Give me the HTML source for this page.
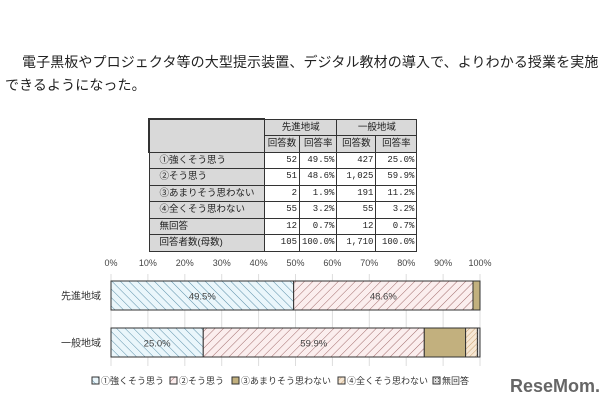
<!DOCTYPE html>
<html><head><meta charset="utf-8"><style>
body{margin:0;width:607px;height:402px;background:#fff;overflow:hidden;position:relative;font-family:"Liberation Sans","Noto Sans CJK JP",sans-serif;}
.t{position:absolute;font-size:14px;color:#222;white-space:nowrap;letter-spacing:0.1px}
table{position:absolute;left:148px;top:118px;border-collapse:collapse;font-size:9.5px;color:#222}
td{border:1px solid #333;padding:0 2px;height:15.5px;line-height:15px}
td.n{text-align:right;font-family:"Liberation Mono","Noto Sans CJK JP",monospace;font-size:9px}
td.h{background:#d9d9d9;text-align:center}
td.l{background:#d9d9d9;padding-left:10px}
</style></head><body>
<div class="t" style="left:22px;top:52px">電子黒板やプロジェクタ等の大型提示装置、デジタル教材の導入で、よりわかる授業を実施</div>
<div class="t" style="left:5px;top:75px">できるようになった。</div>
<table>
<tr><td class="h" rowspan="2" style="width:110px;border-width:2px 1px 1px 2px"></td><td class="h" colspan="2">先進地域</td><td class="h" colspan="2">一般地域</td></tr>
<tr><td class="h" style="width:30px">回答数</td><td class="h" style="width:30px">回答率</td><td class="h" style="width:34px">回答数</td><td class="h" style="width:36px">回答率</td></tr>
<tr><td class="l">①強くそう思う</td><td class="n">52</td><td class="n">49.5%</td><td class="n">427</td><td class="n">25.0%</td></tr>
<tr><td class="l">②そう思う</td><td class="n">51</td><td class="n">48.6%</td><td class="n">1,025</td><td class="n">59.9%</td></tr>
<tr><td class="l">③あまりそう思わない</td><td class="n">2</td><td class="n">1.9%</td><td class="n">191</td><td class="n">11.2%</td></tr>
<tr><td class="l">④全くそう思わない</td><td class="n">55</td><td class="n">3.2%</td><td class="n">55</td><td class="n">3.2%</td></tr>
<tr><td class="l">無回答</td><td class="n">12</td><td class="n">0.7%</td><td class="n">12</td><td class="n">0.7%</td></tr>
<tr><td class="l">回答者数(母数)</td><td class="n">105</td><td class="n">100.0%</td><td class="n">1,710</td><td class="n">100.0%</td></tr>
</table>
<svg id="chart" width="607" height="402" style="position:absolute;left:0;top:0">
<defs>
<pattern id="p0" width="6" height="6" patternUnits="userSpaceOnUse" patternTransform="rotate(-45)"><rect width="6" height="6" fill="#eaf6fb"/><line x1="0" y1="0" x2="0" y2="6" stroke="#5a8fa8" stroke-width="1"/></pattern>
<pattern id="p1" width="6" height="6" patternUnits="userSpaceOnUse" patternTransform="rotate(45)"><rect width="6" height="6" fill="#fbeeee"/><line x1="0" y1="0" x2="0" y2="6" stroke="#a06a6a" stroke-width="1"/></pattern>
<pattern id="p3" width="4" height="4" patternUnits="userSpaceOnUse" patternTransform="rotate(45)"><rect width="4" height="4" fill="#f6e7d4"/><line x1="0" y1="0" x2="0" y2="4" stroke="#c8a070" stroke-width="1"/></pattern>
<pattern id="p4" width="3" height="3" patternUnits="userSpaceOnUse"><rect width="3" height="3" fill="#ddd"/><rect width="1" height="1" fill="#555"/></pattern>
</defs>
<g id="g"></g>
<text x="600" y="392" text-anchor="end" font-size="18" font-weight="bold" fill="#666">ReseMom.</text>
</svg>
<script>
const categories=["先進地域","一般地域"];
const seriesNames=["①強くそう思う","②そう思う","③あまりそう思わない","④全くそう思わない","無回答"];
const s1=[49.5,25.0];
const s2=[48.6,59.9];
const s3=[1.9,11.2];
const s4=[0,3.2];
const s5=[0,0.7];
const ticks=[0,10,20,30,40,50,60,70,80,90,100];
const series=[s1,s2,s3,s4,s5];
const fills=["url(#p0)","url(#p1)","#c2b07e","url(#p3)","url(#p4)"];
const x0=111,x1=480;
const xs=v=>x0+(x1-x0)*v/100;
const ys=i=>281+i*47;
const bh=29;
const g=document.getElementById('g');
const NS="http://www.w3.org/2000/svg";
function mk(t,a){const e=document.createElementNS(NS,t);for(const k in a)e.setAttribute(k,a[k]);g.appendChild(e);return e;}
ticks.forEach(t=>{
 const l=mk('line',{x1:xs(t),x2:xs(t),y1:274,y2:366,stroke:'#ddd'});
 
 
 const tx=mk('text',{x:xs(t),y:266,'text-anchor':'middle','font-size':9,fill:'#444'});
 tx.textContent=t+'%';
 
 
});
categories.forEach((c,i)=>{
 const tl=mk('text',{x:101,y:ys(i)+bh/2+4,'text-anchor':'end','font-size':10,fill:'#333'});
 tl.textContent=c;
 
 
 let acc=0;
 series.forEach((s,j)=>{
  const v=s[i];if(v<=0)return;
  const r=mk('rect',{x:xs(acc),y:ys(i),width:xs(acc+v)-xs(acc),height:bh,fill:fills[j],stroke:'#333','stroke-width':1});
  
  
  if(j<2){
   const lt=mk('text',{x:xs(acc+v/2),y:ys(i)+bh/2+4,'text-anchor':'middle','font-size':9.5,fill:'#444'});
   lt.textContent=v.toFixed(1)+'%';
   
   
  }
  acc+=v;
 });
});
const lx=[92,170,232,338,433];
seriesNames.forEach((n,j)=>{
 const r=mk('rect',{x:lx[j],y:377,width:7,height:7,fill:fills[j],stroke:'#333'});
 
 
 const t=mk('text',{x:lx[j]+9,y:384,'font-size':9,fill:'#333'});
 t.textContent=n;
 
 
});
</script>
</body></html>
